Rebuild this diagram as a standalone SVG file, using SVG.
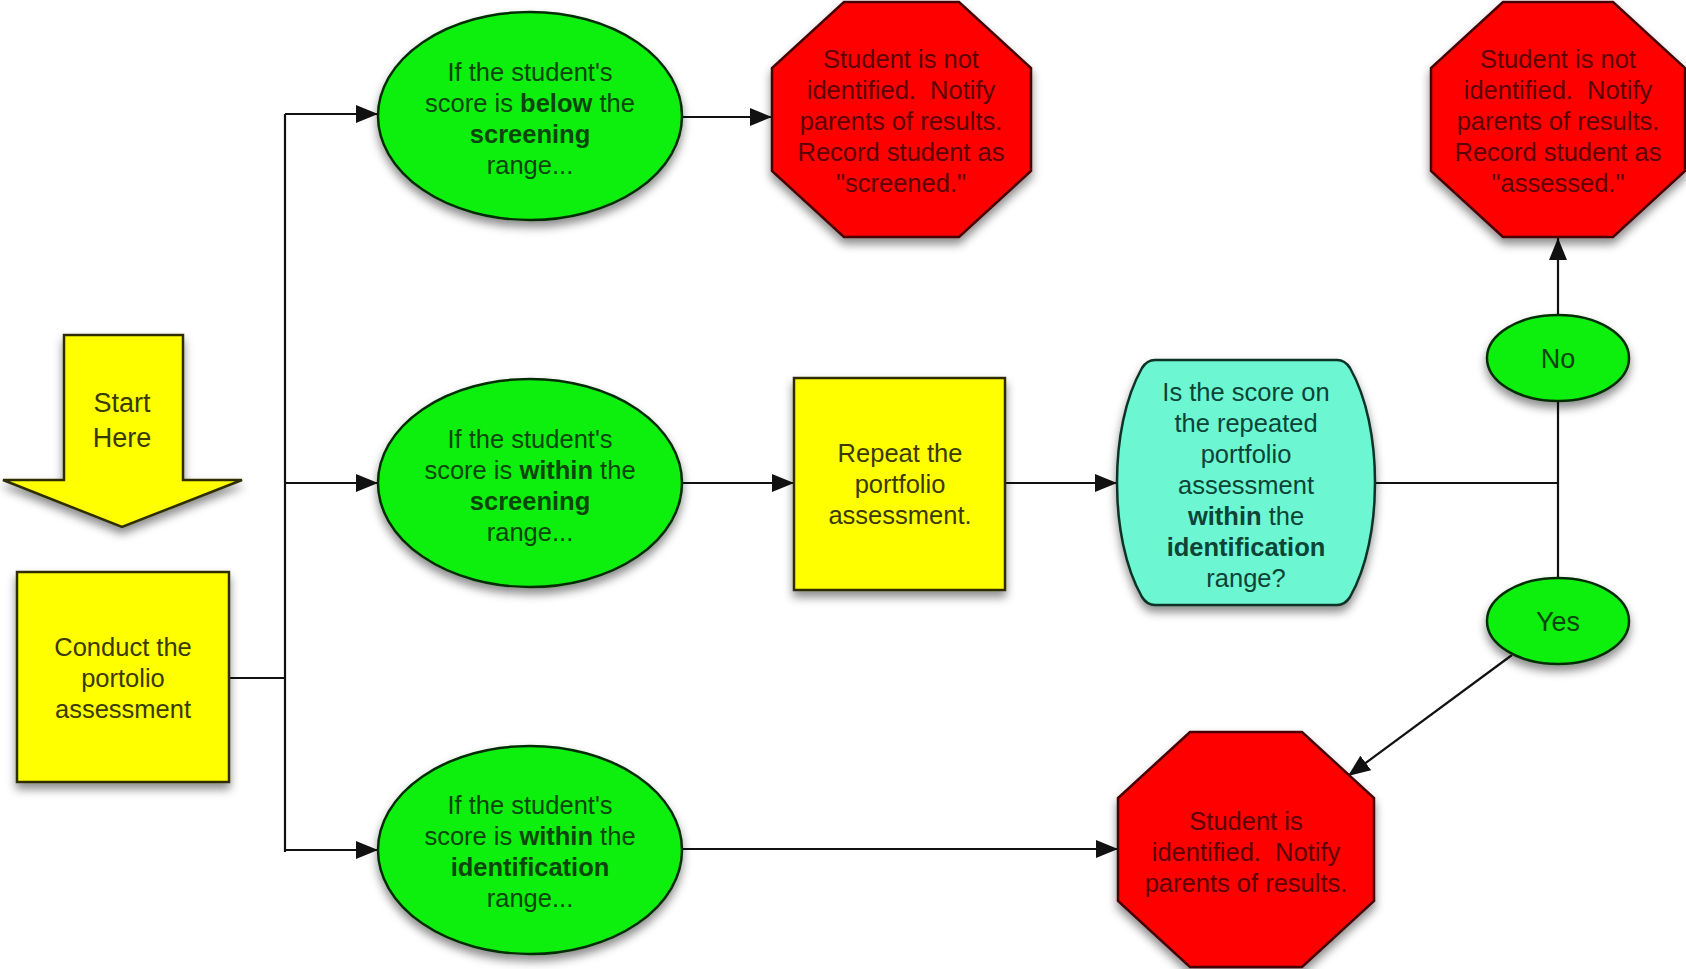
<svg xmlns="http://www.w3.org/2000/svg" width="1686" height="969" viewBox="0 0 1686 969">
<style>
text{font-family:"Liberation Sans",Arial,Helvetica,sans-serif;font-size:25.5px;text-anchor:middle}
.b{font-weight:bold}
.conn{fill:none;stroke:#111;stroke-width:2.2}
.yel{fill:#ffff00;stroke:#2e2e00;stroke-width:2.5}
.yt{fill:#3a3a00}
.grn{fill:#11f011;stroke:#062e06;stroke-width:2.5}
.gt{fill:#0a460a}
.red{fill:#ff0000;stroke:#4a0000;stroke-width:2.5}
.rt{fill:#5c0202}
.cyn{fill:#6cf7d2;stroke:#0b3328;stroke-width:2.5}
.ct{fill:#0d4436}
.big{font-size:27px}
</style>
<defs>
<filter id="sh" x="-20%" y="-20%" width="140%" height="150%">
<feDropShadow dx="0" dy="6" stdDeviation="5" flood-color="#000" flood-opacity="0.45"/>
</filter>
<marker id="ah" markerUnits="userSpaceOnUse" markerWidth="22" markerHeight="18" viewBox="0 0 22 18" refX="22" refY="9" orient="auto">
<path d="M0,0 L22,9 L0,18 Z" fill="#111"/>
</marker>
</defs>
<rect width="1686" height="969" fill="#ffffff"/>
<g id="connectors">
<polyline class="conn" points="229,678 285,678"/>
<line class="conn" x1="285" y1="114" x2="285" y2="852"/>
<line class="conn" x1="285" y1="114" x2="378" y2="114" marker-end="url(#ah)"/>
<line class="conn" x1="285" y1="483" x2="378" y2="483" marker-end="url(#ah)"/>
<line class="conn" x1="285" y1="850" x2="378" y2="850" marker-end="url(#ah)"/>
<line class="conn" x1="682" y1="117" x2="772" y2="117" marker-end="url(#ah)"/>
<line class="conn" x1="682" y1="483" x2="794" y2="483" marker-end="url(#ah)"/>
<line class="conn" x1="1005" y1="483" x2="1117" y2="483" marker-end="url(#ah)"/>
<line class="conn" x1="682" y1="849" x2="1118" y2="849" marker-end="url(#ah)"/>
<line class="conn" x1="1375" y1="483" x2="1558" y2="483"/>
<line class="conn" x1="1558" y1="402" x2="1558" y2="578"/>
<line class="conn" x1="1558" y1="315" x2="1558" y2="238" marker-end="url(#ah)"/>
<line class="conn" x1="1512" y1="655" x2="1348" y2="776" marker-end="url(#ah)"/>
</g>
<g id="start">
<polygon class="yel" filter="url(#sh)" points="64,335 183,335 183,480 242,480 122,527 3,480 64,480"/>
<text class="yt big" x="122" y="412">Start</text>
<text class="yt big" x="122" y="447">Here</text>
</g>
<g id="conduct">
<rect class="yel" filter="url(#sh)" x="17" y="572" width="212" height="210"/>
<text class="yt" x="123" y="656">Conduct the</text>
<text class="yt" x="123" y="687">portolio</text>
<text class="yt" x="123" y="718">assessment</text>
</g>
<g id="below-screening">
<ellipse class="grn" filter="url(#sh)" cx="530" cy="116" rx="152" ry="104"/>
<text class="gt" x="530" y="81">If the student's</text>
<text class="gt" x="530" y="112">score is <tspan class="b">below</tspan> the</text>
<text class="gt b" x="530" y="143">screening</text>
<text class="gt" x="530" y="174">range...</text>
</g>
<g id="within-screening">
<ellipse class="grn" filter="url(#sh)" cx="530" cy="483" rx="152" ry="104"/>
<text class="gt" x="530" y="448">If the student's</text>
<text class="gt" x="530" y="479">score is <tspan class="b">within</tspan> the</text>
<text class="gt b" x="530" y="510">screening</text>
<text class="gt" x="530" y="541">range...</text>
</g>
<g id="within-identification">
<ellipse class="grn" filter="url(#sh)" cx="530" cy="850" rx="152" ry="104"/>
<text class="gt" x="530" y="814">If the student's</text>
<text class="gt" x="530" y="845">score is <tspan class="b">within</tspan> the</text>
<text class="gt b" x="530" y="876">identification</text>
<text class="gt" x="530" y="907">range...</text>
</g>
<g id="not-identified-screened">
<polygon class="red" filter="url(#sh)" points="844,2 959,2 1031,68 1031,171 959,237 844,237 772,171 772,68"/>
<text class="rt" x="901" y="68">Student is not</text>
<text class="rt" x="901" y="99" xml:space="preserve">identified.  Notify</text>
<text class="rt" x="901" y="130">parents of results.</text>
<text class="rt" x="901" y="161">Record student as</text>
<text class="rt" x="901" y="192">"screened."</text>
</g>
<g id="repeat">
<rect class="yel" filter="url(#sh)" x="794" y="378" width="211" height="212"/>
<text class="yt" x="900" y="462">Repeat the</text>
<text class="yt" x="900" y="493">portfolio</text>
<text class="yt" x="900" y="524">assessment.</text>
</g>
<g id="question">
<path class="cyn" filter="url(#sh)" d="M1155,360 L1337,360 Q1345,360 1350,368 C1367,398 1375,440 1375,482.5 C1375,525 1367,567 1350,597 Q1345,605 1337,605 L1155,605 Q1147,605 1142,597 C1125,567 1117,525 1117,482.5 C1117,440 1125,398 1142,368 Q1147,360 1155,360 Z"/>
<text class="ct" x="1246" y="401">Is the score on</text>
<text class="ct" x="1246" y="432">the repeated</text>
<text class="ct" x="1246" y="463">portfolio</text>
<text class="ct" x="1246" y="494">assessment</text>
<text class="ct" x="1246" y="525"><tspan class="b">within</tspan> the</text>
<text class="ct b" x="1246" y="556">identification</text>
<text class="ct" x="1246" y="587">range?</text>
</g>
<g id="no">
<ellipse class="grn" filter="url(#sh)" cx="1558" cy="358" rx="71" ry="43"/>
<text class="gt big" x="1558" y="368">No</text>
</g>
<g id="yes">
<ellipse class="grn" filter="url(#sh)" cx="1558" cy="621" rx="71" ry="43"/>
<text class="gt big" x="1558" y="631">Yes</text>
</g>
<g id="not-identified-assessed">
<polygon class="red" filter="url(#sh)" points="1503,2 1613,2 1685,68 1685,171 1613,237 1503,237 1431,171 1431,68"/>
<text class="rt" x="1558" y="68">Student is not</text>
<text class="rt" x="1558" y="99" xml:space="preserve">identified.  Notify</text>
<text class="rt" x="1558" y="130">parents of results.</text>
<text class="rt" x="1558" y="161">Record student as</text>
<text class="rt" x="1558" y="192">"assessed."</text>
</g>
<g id="identified">
<polygon class="red" filter="url(#sh)" points="1190,732 1302,732 1374,798 1374,901 1302,967 1190,967 1118,901 1118,798"/>
<text class="rt" x="1246" y="830">Student is</text>
<text class="rt" x="1246" y="861" xml:space="preserve">identified.  Notify</text>
<text class="rt" x="1246" y="892">parents of results.</text>
</g>
</svg>
